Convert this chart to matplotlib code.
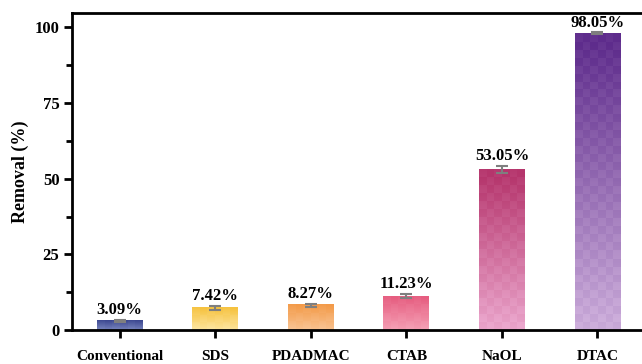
import matplotlib
matplotlib.use("Agg")
import matplotlib.pyplot as plt
import numpy as np
from matplotlib.colors import LinearSegmentedColormap
from matplotlib.ticker import MultipleLocator

plt.rcParams['font.family'] = ['Liberation Serif', 'DejaVu Serif']
plt.rcParams['font.weight'] = 'bold'

# removal efficiency of each collector
labels = ['Conventional', 'SDS', 'PDADMAC', 'CTAB', 'NaOL', 'DTAC']
removal = [3.09, 7.42, 8.27, 11.23, 53.05, 98.05]
err = [0.4, 0.7, 0.5, 0.7, 1.2, 0.3]
# (top colour, bottom colour) of each gradient bar
top_cols = ['#3c4790', '#f6c23e', '#f39a48', '#e65d80', '#b5356c', '#5e2c8c']
bot_cols = ['#7783bd', '#fde5a0', '#f9c493', '#f5a0b5', '#eba7cd', '#cdaedb']

fig = plt.figure(figsize=(6.42, 3.64), dpi=100)
ax = fig.add_axes([0.112, 0.093, 0.893, 0.87])

x = np.arange(len(labels))
w = 0.48
ax.set_xlim(-0.5, len(labels) - 0.5)
ax.set_ylim(0, 104.6)

# smooth gradient fill with a faint checker pattern (cells ~8 px square)
nx = 6
for xi, v, c0, c1 in zip(x, removal, top_cols, bot_cols):
    ny = 300
    ncell = max(1, int(round(v * 3.03 / 8)))
    rows = (np.arange(ny) * ncell // ny)[:, None]
    cols = np.arange(nx)[None, :]
    yy = np.linspace(1, 0, ny)[:, None]
    checker = ((rows + cols) % 2) * 0.07 - 0.035
    cmap = LinearSegmentedColormap.from_list('g', [c1, c0])
    img = np.clip(yy + checker, 0, 1)
    ax.imshow(img, cmap=cmap, vmin=0, vmax=1, aspect='auto',
              extent=(xi - w / 2, xi + w / 2, 0, v), zorder=2,
              interpolation='nearest')

ax.errorbar(x, removal, yerr=err, fmt='none', ecolor='#7f7f7f',
            elinewidth=1.5, capsize=4, capthick=1.5, zorder=3)

for xi, v, e in zip(x, removal, err):
    ax.text(xi, v + e + 0.6, f'{v:.2f}%', ha='center', va='bottom',
            fontsize=12, fontweight='bold', zorder=4)

ax.set_xticks(x)
ax.set_xticklabels(labels)
ax.yaxis.set_major_locator(MultipleLocator(25))
ax.yaxis.set_minor_locator(MultipleLocator(12.5))
ax.set_ylabel('Removal (%)', fontsize=13, fontweight='bold', labelpad=4)
ax.tick_params(axis='both', which='major', direction='out', length=6,
               width=2)
ax.tick_params(axis='x', labelsize=11, pad=8)
ax.tick_params(axis='y', labelsize=12, pad=3)
ax.tick_params(axis='y', which='minor', direction='out', length=4, width=2)
for sp in ax.spines.values():
    sp.set_linewidth(2)

fig.savefig('out.png', dpi=100)
